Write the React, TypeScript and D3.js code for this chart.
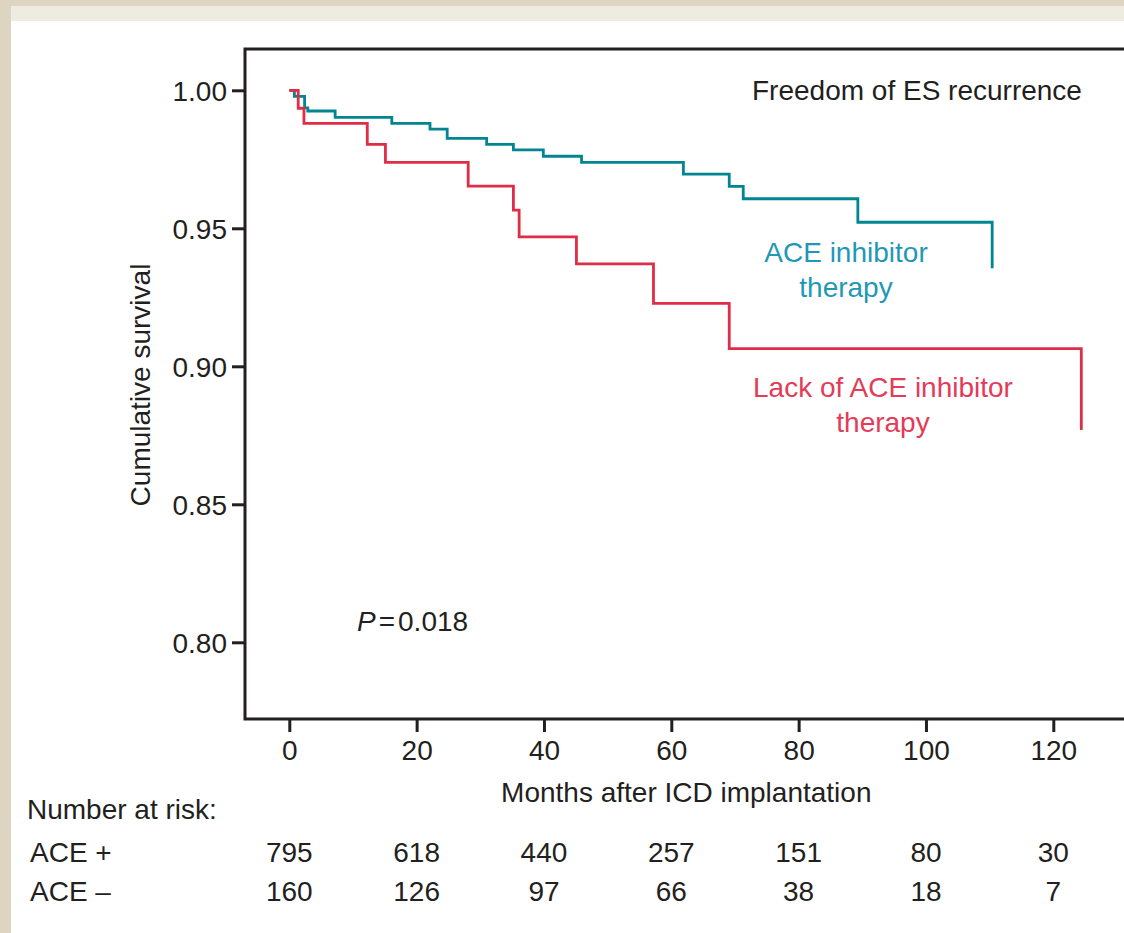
import React, { useRef, useEffect } from "react";
import * as d3 from "d3";

// Kaplan-Meier steps (months, cumulative survival)
const aceMonths = [0, 0.8, 2.4, 2.9, 7.2, 16.1, 22.1, 24.8, 31.0, 35.2, 39.9, 45.9, 61.9, 69.1, 71.3, 89.3, 110.4];
const aceSurvival = [1.0, 0.9978, 0.9936, 0.9925, 0.9902, 0.988, 0.9859, 0.9826, 0.9804, 0.9784, 0.9761, 0.9739, 0.9696, 0.9652, 0.9607, 0.9522, 0.9355];

const noAceMonths = [0, 1.4, 2.3, 12.25, 15.1, 28.1, 35.2, 36.1, 45.1, 57.2, 69.1, 124.4];
const noAceSurvival = [1.0, 0.9935, 0.988, 0.9804, 0.9739, 0.9653, 0.9566, 0.9469, 0.9371, 0.9228, 0.9064, 0.8769];

// number at risk table
const riskMonths = [0, 20, 40, 60, 80, 100, 120];
const acePlusAtRisk = [795, 618, 440, 257, 151, 80, 30];
const aceMinusAtRisk = [160, 126, 97, 66, 38, 18, 7];

const yTicks = [0.8, 0.85, 0.9, 0.95, 1.0];
const xTicks = [0, 20, 40, 60, 80, 100, 120];

const W = 1124;
const H = 933;
const FONT = "'Liberation Sans', Arial, Helvetica, sans-serif";
const INK = "#231f20";

const SurvivalChart = () => {
  const ref = useRef(null);

  useEffect(() => {
    if (!ref.current) return;
    const svg = d3.select(ref.current);
    svg.selectAll("*").remove();

    // page background: beige paper, cream strip, white panel
    svg.append("rect").attr("width", W).attr("height", H).attr("fill", "#ddd4c2");
    svg.append("rect").attr("x", 11).attr("y", 6).attr("width", W).attr("height", 16).attr("fill", "#eeece0");
    svg.append("rect").attr("x", 11).attr("y", 21).attr("width", W).attr("height", H).attr("fill", "#ffffff");

    const x = d3.scaleLinear().domain([0, 120]).range([289.3, 1053.3]);
    const y = d3.scaleLinear().domain([0.8, 1.0]).range([642.3, 90.3]);

    const left = 245;
    const top = 49;
    const bottom = 719;

    // frame (right edge falls outside the picture)
    svg.append("path")
      .attr("d", `M${W + 20},${top}H${left}V${bottom}H${W + 20}`)
      .attr("fill", "none")
      .attr("stroke", INK)
      .attr("stroke-width", 3);

    // y axis
    const yAxis = svg.append("g")
      .attr("transform", `translate(${left},0)`)
      .call(d3.axisLeft(y).tickValues(yTicks).tickSize(13).tickPadding(5).tickFormat(d3.format(".2f")));
    yAxis.select(".domain").remove();
    yAxis.selectAll("line").attr("stroke", INK).attr("stroke-width", 3);
    yAxis.selectAll("text")
      .attr("font-family", FONT)
      .attr("font-size", 28)
      .attr("fill", INK)
      .attr("dy", "0.36em");

    // x axis
    const xAxis = svg.append("g")
      .attr("transform", `translate(0,${bottom + 1})`)
      .call(d3.axisBottom(x).tickValues(xTicks).tickSize(12).tickPadding(8).tickFormat(d3.format("d")));
    xAxis.select(".domain").remove();
    xAxis.selectAll("line").attr("stroke", INK).attr("stroke-width", 3);
    xAxis.selectAll("text")
      .attr("font-family", FONT)
      .attr("font-size", 28)
      .attr("fill", INK)
      .attr("dy", "0.71em");

    // survival curves
    const line = d3.line()
      .x((d) => x(d[0]))
      .y((d) => y(d[1]))
      .curve(d3.curveStepAfter);

    const aceData = aceMonths.map((m, i) => [m, aceSurvival[i]]);
    const noAceData = noAceMonths.map((m, i) => [m, noAceSurvival[i]]);

    svg.append("path")
      .datum(aceData)
      .attr("d", line)
      .attr("fill", "none")
      .attr("stroke", "#008591")
      .attr("stroke-width", 2.8);

    svg.append("path")
      .datum(noAceData)
      .attr("d", line)
      .attr("fill", "none")
      .attr("stroke", "#e02d47")
      .attr("stroke-width", 2.8);

    const label = (tx, ty, str, color, anchor = "start") =>
      svg.append("text")
        .attr("x", tx)
        .attr("y", ty)
        .attr("text-anchor", anchor)
        .attr("font-family", FONT)
        .attr("font-size", 28)
        .attr("fill", color)
        .text(str);

    label(752, 100, "Freedom of ES recurrence", INK);
    label(846, 262, "ACE inhibitor", "#1f98b8", "middle");
    label(846, 297, "therapy", "#1f98b8", "middle");
    label(883, 397, "Lack of ACE inhibitor", "#e33b58", "middle");
    label(883, 432, "therapy", "#e33b58", "middle");

    // P value
    const p = label(357, 631, "", INK);
    p.append("tspan").attr("font-style", "italic").text("P");
    p.append("tspan").attr("dx", 3).text("=");
    p.append("tspan").attr("dx", 3).text("0.018");

    // y axis title
    svg.append("text")
      .attr("transform", `translate(150,385) rotate(-90)`)
      .attr("text-anchor", "middle")
      .attr("font-family", FONT)
      .attr("font-size", 28)
      .attr("fill", INK)
      .text("Cumulative survival");

    // x axis title
    label((x(0) + x(120)) / 2 + 15, 802, "Months after ICD implantation", INK, "middle");

    // number at risk
    label(27, 819, "Number at risk:", INK);
    label(30, 862, "ACE +", INK);
    label(30, 901, "ACE \u2013", INK);

    svg.append("g")
      .selectAll("text")
      .data(riskMonths)
      .join("text")
      .attr("x", (d) => x(d))
      .attr("y", 862)
      .attr("text-anchor", "middle")
      .attr("font-family", FONT)
      .attr("font-size", 28)
      .attr("fill", INK)
      .text((d, i) => acePlusAtRisk[i]);

    svg.append("g")
      .selectAll("text")
      .data(riskMonths)
      .join("text")
      .attr("x", (d) => x(d))
      .attr("y", 901)
      .attr("text-anchor", "middle")
      .attr("font-family", FONT)
      .attr("font-size", 28)
      .attr("fill", INK)
      .text((d, i) => aceMinusAtRisk[i]);
  }, []);

  return (
    <svg
      ref={ref}
      width={W}
      height={H}
      style={{ position: "absolute", left: 0, top: 0, display: "block" }}
    />
  );
};

export default function App() {
  return <SurvivalChart />;
}
